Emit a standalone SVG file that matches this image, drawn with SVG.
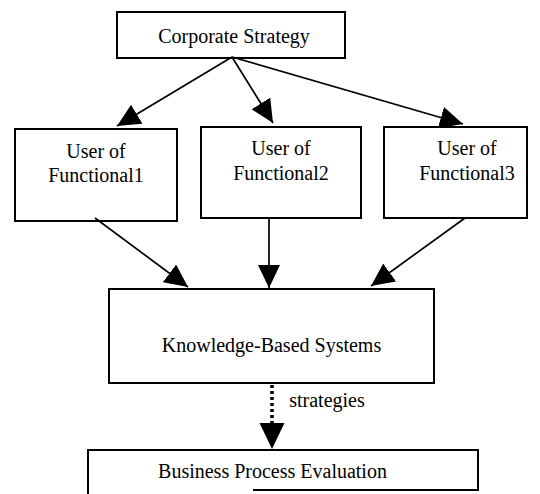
<svg xmlns="http://www.w3.org/2000/svg" width="540" height="494" viewBox="0 0 540 494">
  <style>
    .box { fill: #fff; stroke: #000; stroke-width: 2; }
    .edge { stroke: #000; stroke-width: 2; fill: none; }
    .label { font-family: "Liberation Serif", "Times New Roman", serif; font-size: 20px; fill: #000; text-anchor: middle; }
    .link { stroke: #000; stroke-width: 1.7; fill: none; marker-end: url(#head); }
    .dotted { stroke: #000; stroke-width: 3.5; stroke-dasharray: 3 3; fill: none; }
  </style>
  <defs>
    <marker id="head" markerUnits="userSpaceOnUse" markerWidth="23" markerHeight="22" refX="23" refY="11" orient="auto">
      <path d="M0,0 L23,11 L0,22 Z" fill="#000"/>
    </marker>
  </defs>

  <g id="corporate-strategy">
    <rect class="box" x="117" y="12" width="228" height="46"/>
    <text class="label" x="234" y="43">Corporate Strategy</text>
  </g>

  <g id="user-functional-1">
    <rect class="box" x="15" y="129" width="162" height="92"/>
    <text class="label" x="96" y="158">User of</text>
    <text class="label" x="96" y="182">Functional1</text>
  </g>

  <g id="user-functional-2">
    <rect class="box" x="201" y="127" width="160" height="91"/>
    <text class="label" x="281" y="155">User of</text>
    <text class="label" x="281" y="180">Functional2</text>
  </g>

  <g id="user-functional-3">
    <rect class="box" x="384" y="127" width="143" height="91"/>
    <text class="label" x="467" y="155">User of</text>
    <text class="label" x="467" y="180">Functional3</text>
  </g>

  <g id="knowledge-based-systems">
    <rect class="box" x="109" y="289" width="325" height="94"/>
    <text class="label" x="271.5" y="352">Knowledge-Based Systems</text>
  </g>

  <!-- bottom border only partly printed -->
  <g id="business-process-evaluation">
    <path class="edge" d="M88,494 L88,450 L478,450 L478,490 L253,490"/>
    <text class="label" x="272.5" y="478">Business Process Evaluation</text>
  </g>

  <g id="connectors">
    <line class="link" x1="232" y1="57" x2="117" y2="126"/>
    <line class="link" x1="232" y1="57" x2="273" y2="123"/>
    <line class="link" x1="232" y1="57" x2="463" y2="124"/>
    <line class="link" x1="95" y1="218" x2="188" y2="287"/>
    <line class="link" x1="269" y1="218" x2="269" y2="288"/>
    <line class="link" x1="465" y1="218" x2="371" y2="286"/>
    <line class="dotted" x1="272" y1="385" x2="272" y2="424"/>
    <path d="M259.5,423 L284.5,423 L272,449 Z" fill="#000"/>
    <text class="label" x="327" y="407">strategies</text>
  </g>
</svg>
